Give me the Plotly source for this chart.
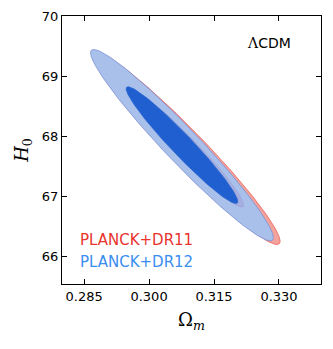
import numpy as np
import plotly.graph_objects as go

# Gaussian summaries (Omega_m, H0)
labels = ['PLANCK+DR11', 'PLANCK+DR12']
center_om = [0.3087, 0.3076]
center_h0 = [67.80, 67.855]
sigma_om = [0.00868, 0.0085]
sigma_h0 = [0.642, 0.64]
rho = [-0.966, -0.966]
levels = [6.17, 2.30]  # delta chi^2 for 95% and 68%

x_ticks = [0.285, 0.300, 0.315, 0.330]
y_ticks = [66, 67, 68, 69, 70]

text_colors = ['#e8352e', '#3a8ef0']


def ellipse(i, k, n=400):
    cov = np.array([[sigma_om[i] ** 2, rho[i] * sigma_om[i] * sigma_h0[i]],
                    [rho[i] * sigma_om[i] * sigma_h0[i], sigma_h0[i] ** 2]])
    L = np.linalg.cholesky(cov)
    t = np.linspace(0, 2 * np.pi, n)
    pts = L @ (np.sqrt(k) * np.vstack([np.cos(t), np.sin(t)]))
    return center_om[i] + pts[0], center_h0[i] + pts[1]


def add_contour(fig, i, k, fill, line):
    x, y = ellipse(i, k)
    fig.add_trace(go.Scatter(x=x, y=y, mode='lines', fill='toself', fillcolor=fill,
                             line=dict(color=line, width=0.8),
                             hoverinfo='skip', showlegend=False))


fig = go.Figure()
# draw order: red 95%, blue 95%, red 68% (faint), blue 68%
add_contour(fig, 0, levels[0], '#f4a39c', '#e8615a')
add_contour(fig, 1, levels[0], '#a8c0ea', '#7b8fd4')
add_contour(fig, 0, levels[1], 'rgba(150,120,190,0.25)', 'rgba(150,120,190,0.3)')
add_contour(fig, 1, levels[1], '#1f5fcf', '#2a66d0')

for i, lab in enumerate(labels):
    fig.add_annotation(x=0.06, y=0.165 - 0.083 * i, xref='paper', yref='paper',
                       xanchor='left', yanchor='middle', text=lab, showarrow=False,
                       font=dict(family='DejaVu Sans', size=15, color=text_colors[i]))

fig.add_annotation(x=0.893, y=0.9, xref='paper', yref='paper', xanchor='right',
                   yanchor='middle', showarrow=False,
                   text='<span style="font-family:DejaVu Serif">Λ</span>CDM',
                   font=dict(family='DejaVu Sans', size=14, color='black'))

axis_common = dict(showgrid=False, zeroline=False, ticks='inside', ticklen=5,
                   tickcolor='black', mirror='ticks', showline=True, linecolor='black',
                   linewidth=1.2, automargin=False,
                   tickfont=dict(family='DejaVu Sans', size=13, color='black'))

fig.update_xaxes(range=[0.2799, 0.3397], tickvals=x_ticks,
                 ticktext=['%.3f' % v for v in x_ticks],
                 title=dict(text='Ω<sub><i>m</i></sub>', standoff=10,
                            font=dict(family='DejaVu Serif', size=18, color='black')),
                 **axis_common)
fig.update_yaxes(range=[65.55, 70.0], tickvals=y_ticks,
                 title=dict(text='<i>H</i><sub>0</sub>', standoff=8,
                            font=dict(family='DejaVu Serif', size=18, color='black')),
                 **axis_common)

# page body adds an 8px offset, so the figure is sized to fit the window
fig.update_layout(width=325, height=341, margin=dict(l=54, r=12, t=8, b=65),
                  plot_bgcolor='white', paper_bgcolor='white')

fig.write_html("out.html")
